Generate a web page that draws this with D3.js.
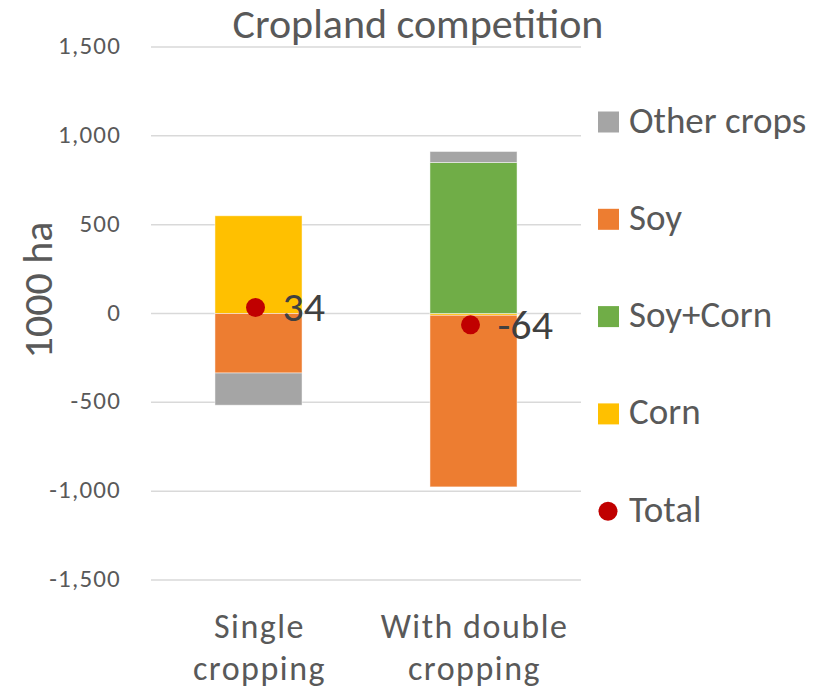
<!doctype html>
<html lang="en">
  <head>
    <meta charset="UTF-8" />
    <title>Cropland competition</title>
    <script src="https://d3js.org/d3.v7.min.js"></script>
    <style>
      body, html {
        margin: 0;
        padding: 0;
        background: #fff;
        overflow: hidden;
      }
      svg {
        display: block;
        font-family: Carlito, Calibri, Lato, sans-serif;
      }
    </style>
  </head>
  <body>
    <svg id="chart"></svg>
    <script>
      // chart data
      const categories = [["Single", "cropping"], ["With double", "cropping"]];
      const seriesNames = ["Corn", "Soy+Corn", "Soy", "Other crops"];
      const corn = [550, -10];
      const soyCorn = [0, 850];
      const soy = [-335, -966];
      const otherCrops = [-181, 62];
      const totals = [34, -64];
      const yTicks = [-1500, -1000, -500, 0, 500, 1000, 1500];

      const colors = {
        "Corn": "#FFC000",
        "Soy+Corn": "#70AD47",
        "Soy": "#ED7D31",
        "Other crops": "#A5A5A5"
      };
      const seriesValues = [corn, soyCorn, soy, otherCrops];

      const width = 813;
      const height = 692;
      const svg = d3.select("#chart").attr("width", width).attr("height", height);

      const plotLeft = 151, plotRight = 581;
      const x = d3.scaleBand().domain([0, 1]).range([plotLeft, plotRight]).padding(0);
      const y = d3.scaleLinear().domain([-1500, 1500]).range([580, 47]);
      const barW = x.bandwidth() * 0.405;
      const cx = i => x(i) + x.bandwidth() / 2;

      // gridlines
      svg.append("g")
        .selectAll("line")
        .data(yTicks)
        .join("line")
        .attr("x1", plotLeft)
        .attr("x2", plotRight)
        .attr("y1", d => y(d))
        .attr("y2", d => y(d))
        .attr("stroke", "#D9D9D9")
        .attr("stroke-width", 1.5);

      // tick labels
      const fmt = d3.format(",");
      svg.append("g")
        .selectAll("text")
        .data(yTicks)
        .join("text")
        .attr("x", 121)
        .attr("y", d => y(d) + 7)
        .attr("text-anchor", "end")
        .attr("font-size", 25)
        .attr("letter-spacing", 1.2)
        .attr("fill", "#595959")
        .text(d => fmt(d).replace("\u2212", "-"));

      // stacked bars (positives stack up, negatives down)
      const segments = [];
      categories.forEach((c, i) => {
        let pos = 0, neg = 0;
        seriesNames.forEach((name, s) => {
          const v = seriesValues[s][i];
          if (!v) return;
          let y0, y1;
          if (v >= 0) { y0 = pos; y1 = pos + v; pos = y1; }
          else { y0 = neg; y1 = neg + v; neg = y1; }
          segments.push({ i, name, y0, y1 });
        });
      });

      svg.append("g")
        .selectAll("rect")
        .data(segments)
        .join("rect")
        .attr("x", d => cx(d.i) - barW / 2)
        .attr("width", barW)
        .attr("y", d => y(Math.max(d.y0, d.y1)))
        .attr("height", d => Math.abs(y(d.y0) - y(d.y1)))
        .attr("fill", d => colors[d.name])
        .attr("stroke", "#fff")
        .attr("stroke-opacity", 0.6)
        .attr("stroke-width", 0.8);

      // total markers + labels
      const tot = svg.append("g");
      tot.selectAll("circle")
        .data(totals)
        .join("circle")
        .attr("cx", (d, i) => cx(i) - 3)
        .attr("cy", d => y(d))
        .attr("r", 9.5)
        .attr("fill", "#C00000");
      tot.selectAll("text")
        .data(totals)
        .join("text")
        .attr("x", (d, i) => cx(i) + 24)
        .attr("y", d => y(d) + 14)
        .attr("font-size", 42)
        .attr("fill", "#404040")
        .text(d => d);

      // category labels
      const cat = svg.append("g");
      categories.forEach((lines, i) => {
        const t = cat.append("text")
          .attr("text-anchor", "middle")
          .attr("font-size", 34)
          .attr("letter-spacing", 1.5)
          .attr("fill", "#595959");
        lines.forEach((l, k) => {
          t.append("tspan")
            .attr("x", cx(i) + 1)
            .attr("y", 638 + k * 42)
            .text(l);
        });
      });

      // title
      svg.append("text")
        .attr("x", 418)
        .attr("y", 38)
        .attr("text-anchor", "middle")
        .attr("font-size", 42)
        .attr("fill", "#595959")
        .text("Cropland competition");

      // y axis title
      svg.append("text")
        .attr("transform", "translate(52,290) rotate(-90)")
        .attr("text-anchor", "middle")
        .attr("font-size", 42)
        .attr("fill", "#595959")
        .text("1000 ha");

      // legend
      const legendItems = ["Other crops", "Soy", "Soy+Corn", "Corn", "Total"];
      const lg = svg.append("g");
      legendItems.forEach((name, k) => {
        const cy = 122 + k * 97.3;
        if (name === "Total") {
          lg.append("circle").attr("cx", 608).attr("cy", cy).attr("r", 9.5).attr("fill", "#C00000");
        } else {
          lg.append("rect").attr("x", 598).attr("y", cy - 10.5).attr("width", 21).attr("height", 21).attr("fill", colors[name]);
        }
        lg.append("text")
          .attr("x", 629)
          .attr("y", cy + 10.5)
          .attr("font-size", 37)
          .attr("fill", "#595959")
          .text(name);
      });
    </script>
  </body>
</html>
